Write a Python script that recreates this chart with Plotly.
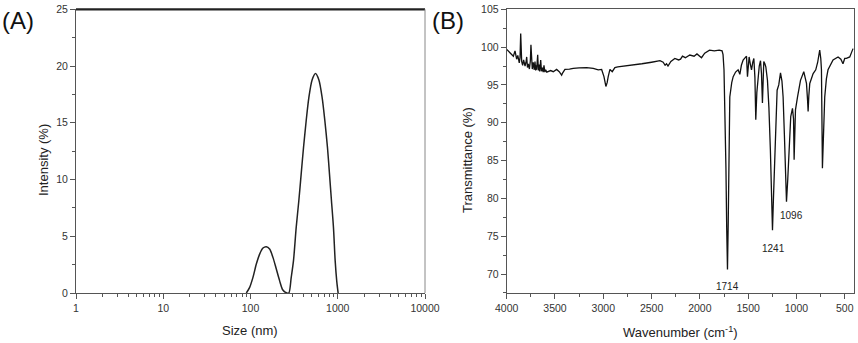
import plotly.graph_objects as go

# ---------------- Panel A: DLS size distribution ----------------
size_nm = [89.6, 97.8, 106.7, 116.6, 127.3, 139, 151.8, 165.6, 180.8, 197.6,
           215.4, 235, 261, 275, 293, 311, 334, 358, 381, 405,
           435, 466, 509, 556, 607, 663, 711, 763, 804, 847,
           893, 934, 975, 1010]
intensity = [0, 0.5, 1.38, 2.55, 3.43, 3.96, 4.08, 3.87, 3.14, 2.11,
             1.09, 0.26, 0, 0, 1.38, 2.85, 5.78, 8.13, 10.5, 12.8,
             15.2, 17.2, 18.8, 19.35, 18.8, 17.2, 15.2, 12.8, 10.5, 8.13,
             5.78, 2.85, 1.0, 0]

# ---------------- Panel B: FTIR spectrum ----------------
wavenumber = [4000, 3980, 3960, 3945, 3931, 3914, 3905, 3897, 3885, 3870,
              3862, 3855, 3845, 3835, 3825, 3810, 3800, 3793, 3785, 3776,
              3765, 3755, 3749, 3742, 3735, 3725, 3715, 3707, 3700, 3697,
              3690, 3679, 3672, 3666, 3658, 3648, 3640, 3631, 3622, 3614,
              3605, 3597, 3585, 3569, 3545, 3518, 3483, 3456, 3440, 3431,
              3420, 3397, 3350, 3311, 3250, 3172, 3104, 3052, 3017, 2993,
              2973, 2960, 2949, 2931, 2907, 2880, 2850, 2780, 2700, 2600,
              2500, 2450, 2413, 2380, 2360, 2345, 2330, 2300, 2259, 2220,
              2200, 2180, 2150, 2104, 2060, 2030, 2000, 1983, 1950, 1900,
              1850, 1800, 1770, 1760, 1750, 1740, 1730, 1722, 1714, 1706,
              1698, 1690, 1670, 1655, 1630, 1604, 1586, 1570, 1552, 1535,
              1517, 1507, 1498, 1490, 1478, 1465, 1452, 1441, 1430, 1421,
              1410, 1397, 1385, 1372, 1362, 1352, 1345, 1338, 1327, 1317,
              1300, 1285, 1270, 1258, 1248, 1238, 1225, 1214, 1200, 1183,
              1165, 1150, 1138, 1125, 1117, 1103, 1090, 1076, 1059, 1041,
              1030, 1024, 1017, 1010, 989, 958, 924, 896, 885, 879,
              872, 862, 827, 800, 780, 759, 748, 741, 731, 722,
              707, 690, 673, 621, 569, 540, 518, 500, 483, 448,
              431, 414]
transmittance = [99.7, 99.4, 99.1, 98.9, 98.8, 99.5, 98.6, 98.4, 98.9, 97.9,
                 98.6, 101.8, 98.1, 97.6, 98.3, 97.5, 98.0, 98.7, 97.3, 97.8,
                 97.1, 98.2, 100.3, 97.4, 97.1, 98.0, 97.0, 98.1, 96.9, 97.6,
                 97.0, 99.0, 96.9, 97.7, 96.8, 98.3, 96.8, 97.3, 96.7, 97.6,
                 96.7, 97.0, 96.7, 96.8, 96.9, 96.75, 97.05, 96.75, 96.5, 96.3,
                 96.6, 97.05, 97.1, 97.2, 97.25, 97.3, 97.2, 97.0, 97.05, 96.1,
                 94.8, 95.3, 96.1, 97.05, 96.75, 97.3, 97.4, 97.5, 97.6, 97.8,
                 98.0, 98.1, 98.2, 98.0, 97.6, 97.8, 97.5, 98.1, 98.5, 98.3,
                 98.4, 98.8, 98.6, 98.95, 98.8, 99.1, 98.7, 98.6, 99.2, 99.6,
                 99.5, 99.6, 99.5, 99.0, 97.0, 92.0, 84.0, 76.0, 70.6, 77.0,
                 86.0, 93.4, 95.3, 96.1, 96.7, 97.0, 96.4, 97.6, 98.3, 98.6,
                 98.8, 96.1, 98.6, 98.7, 97.8, 97.0, 98.0, 98.5, 96.0, 90.4,
                 94.0, 96.5, 97.5, 98.2, 96.5, 92.6, 96.0, 98.1, 97.8, 97.4,
                 95.6, 92.0, 86.5, 80.5, 75.8, 80.0, 85.0, 89.0, 94.3, 95.0,
                 96.6, 95.5, 93.4, 88.5, 84.6, 79.55, 82.5, 86.8, 90.8, 91.9,
                 90.5, 85.1, 89.5, 91.7, 93.4, 95.6, 96.75, 95.2, 93.0, 91.5,
                 93.5, 95.2, 96.5, 97.0, 98.0, 99.6, 98.5, 97.0, 84.0, 88.5,
                 93.4, 95.8, 97.0, 98.3, 98.7, 98.4, 97.8, 98.5, 98.5, 98.7,
                 99.4, 99.8]

peak_labels = ["1714", "1241", "1096"]
peak_label_wn = [1714, 1241, 1055]
peak_label_y = [68.3, 73.4, 77.7]

A_yticks = [0, 5, 10, 15, 20, 25]
A_xticks = [1, 10, 100, 1000, 10000]
B_yticks = [70, 75, 80, 85, 90, 95, 100, 105]
B_xticks = [4000, 3500, 3000, 2500, 2000, 1500, 1000, 500]

W, H = 858, 343
FONT = "Liberation Sans, Arial, sans-serif"
TICKC = "#333333"
AXC = "#555555"

fig = go.Figure()
fig.add_trace(go.Scatter(x=size_nm, y=intensity, mode="lines",
                         line=dict(color="#222222", width=1.5, shape="spline", smoothing=0.8),
                         xaxis="x", yaxis="y", showlegend=False))
fig.add_trace(go.Scatter(x=wavenumber, y=transmittance, mode="lines",
                         line=dict(color="#111111", width=1.3),
                         xaxis="x2", yaxis="y2", showlegend=False))

def px_x(p):
    return p / W

def px_y(p):
    return 1 - p / H

axis_common = dict(showgrid=False, zeroline=False, showline=True, linecolor=AXC, linewidth=1,
                   ticks="outside", ticklen=5, tickwidth=1, tickcolor=AXC, automargin=False,
                   tickfont=dict(family=FONT, size=10.5, color=TICKC))

fig.update_layout(
    width=W, height=H, margin=dict(l=0, r=0, t=0, b=0, pad=0, autoexpand=False),
    paper_bgcolor="white", plot_bgcolor="white",
    xaxis=dict(axis_common, type="log", range=[0, 4], domain=[px_x(76), px_x(425)],
               tickvals=A_xticks, ticktext=[str(v) for v in A_xticks], anchor="y",
               minor=dict(ticks="outside", ticklen=3, tickcolor=AXC, dtick="D1"),
               mirror=False),
    yaxis=dict(axis_common, range=[0, 25], domain=[px_y(293), px_y(9.3)],
               tickvals=A_yticks, anchor="x",
               minor=dict(ticks="outside", ticklen=3, tickcolor=AXC, dtick=2.5)),
    xaxis2=dict(axis_common, range=[4000, 404], domain=[px_x(506.7), px_x(854)],
                tickvals=B_xticks, anchor="y2", mirror=True,
                minor=dict(ticks="outside", ticklen=3, tickcolor=AXC, dtick=250)),
    yaxis2=dict(axis_common, range=[67.45, 105], domain=[px_y(293.3), px_y(9.3)],
                tickvals=B_yticks, anchor="x2", mirror=True,
                minor=dict(ticks="outside", ticklen=3, tickcolor=AXC, dtick=2.5)),
)

# thick top frame line of panel A and thin right frame
fig.add_shape(type="line", xref="paper", yref="paper",
              x0=px_x(76), x1=px_x(425), y0=px_y(9.3), y1=px_y(9.3),
              line=dict(color="#222222", width=2.2))
fig.add_shape(type="line", xref="paper", yref="paper",
              x0=px_x(425), x1=px_x(425), y0=px_y(9.3), y1=px_y(293),
              line=dict(color="#888888", width=1))

ann = []
ann.append(dict(text="(A)", x=px_x(0), y=px_y(5), xref="paper", yref="paper",
                xanchor="left", yanchor="top", showarrow=False,
                font=dict(family=FONT, size=24, color="#111111")))
ann.append(dict(text="(B)", x=px_x(430), y=px_y(5), xref="paper", yref="paper",
                xanchor="left", yanchor="top", showarrow=False,
                font=dict(family=FONT, size=24, color="#111111")))
ann.append(dict(text="Intensity (%)", x=px_x(43), y=px_y(160), xref="paper", yref="paper",
                xanchor="center", yanchor="middle",
                textangle=-90, showarrow=False, font=dict(family=FONT, size=13, color="#222222")))
ann.append(dict(text="Size (nm)", x=px_x(250), y=px_y(330), xref="paper", yref="paper",
                xanchor="center", yanchor="middle",
                showarrow=False, font=dict(family=FONT, size=13, color="#222222")))
ann.append(dict(text="Transmittance (%)", x=px_x(467), y=px_y(160), xref="paper", yref="paper",
                xanchor="center", yanchor="middle",
                textangle=-90, showarrow=False, font=dict(family=FONT, size=13, color="#222222")))
ann.append(dict(text="Wavenumber (cm<sup>-1</sup>)", x=px_x(680), y=px_y(332), xref="paper", yref="paper",
                xanchor="center", yanchor="middle",
                showarrow=False, font=dict(family=FONT, size=13, color="#222222")))
for lab, xw, yv in zip(peak_labels, peak_label_wn, peak_label_y):
    ann.append(dict(text=lab, x=xw, y=yv, xref="x2", yref="y2", showarrow=False,
                    xanchor="center", yanchor="middle",
                    font=dict(family=FONT, size=10, color="#222222")))
fig.update_layout(annotations=ann)

fig.write_html("out.html", config={"displayModeBar": False},
               post_script="document.body.style.margin='0';document.body.style.overflow='hidden';")
